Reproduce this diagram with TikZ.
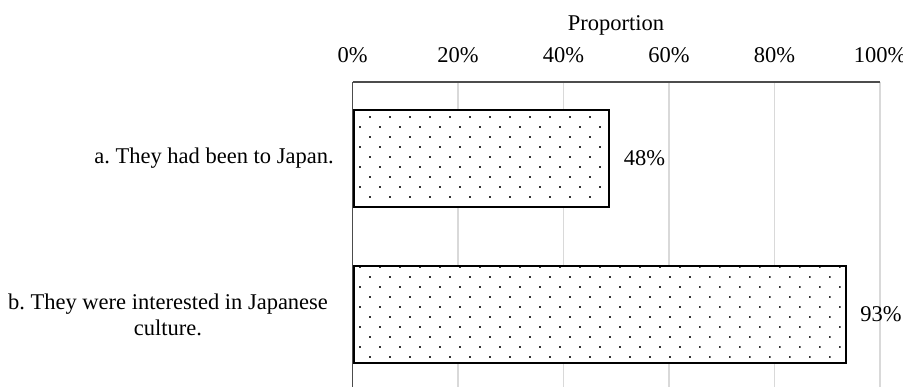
\documentclass[tikz,border=0pt]{standalone}
\usepackage{fontspec}
\setmainfont{Liberation Serif}
\usepackage{tikz}
\usetikzlibrary{patterns.meta,positioning}
\frenchspacing

\begin{document}
\begin{tikzpicture}[x=0.5pt,y=-0.5pt,
		gridline/.style={draw=black!15,line width=0.6pt},
		axisline/.style={draw=black!70,line width=0.6pt},
		bar/.style={rectangle,draw=black,line width=1pt,preaction={fill=white},pattern={Dots[distance=7.07pt,radius=0.6pt,angle=45]},pattern color=black!80,minimum height=48.5pt,inner sep=0pt,anchor=west},
		txt/.style={inner sep=0pt}]
		\fontsize{11.25}{13}\selectfont
		\useasboundingbox (0,0) rectangle (903,387);

		% grid and axes
		\foreach \i in {1,...,5}
			\draw[gridline] ({352.5+105.5*\i},82) -- ({352.5+105.5*\i},387);
		\draw[axisline] (352.5,82) -- (880,82);
		\draw[axisline] (352.5,82) -- (352.5,387);

		\foreach \v [count=\i from 0] in {0,20,40,60,80,100}
			\node[txt] (tick\i) at ({352.5+105.5*\i},55) {\v\%};
		\node[txt] (axistitle) at (616,25) {Proportion};

		% bars
		\node[bar,minimum width=127.5pt] (barA) at (352.5,158.5) {};
		\node[bar,minimum width=246.25pt] (barB) at (352.5,314.5) {};

		\node[txt,anchor=west] (valA) at ([xshift=7pt]barA.east) {48\%};
		\node[txt,anchor=west] (valB) at ([xshift=6.5pt]barB.east) {93\%};

		\node[txt,anchor=east] (labA) at (334,158) {a. They had been to Japan.};
		\node[txt,align=center] (labB) at (168,315) {b. They were interested in Japanese\\culture.};
	\end{tikzpicture}
\end{document}
